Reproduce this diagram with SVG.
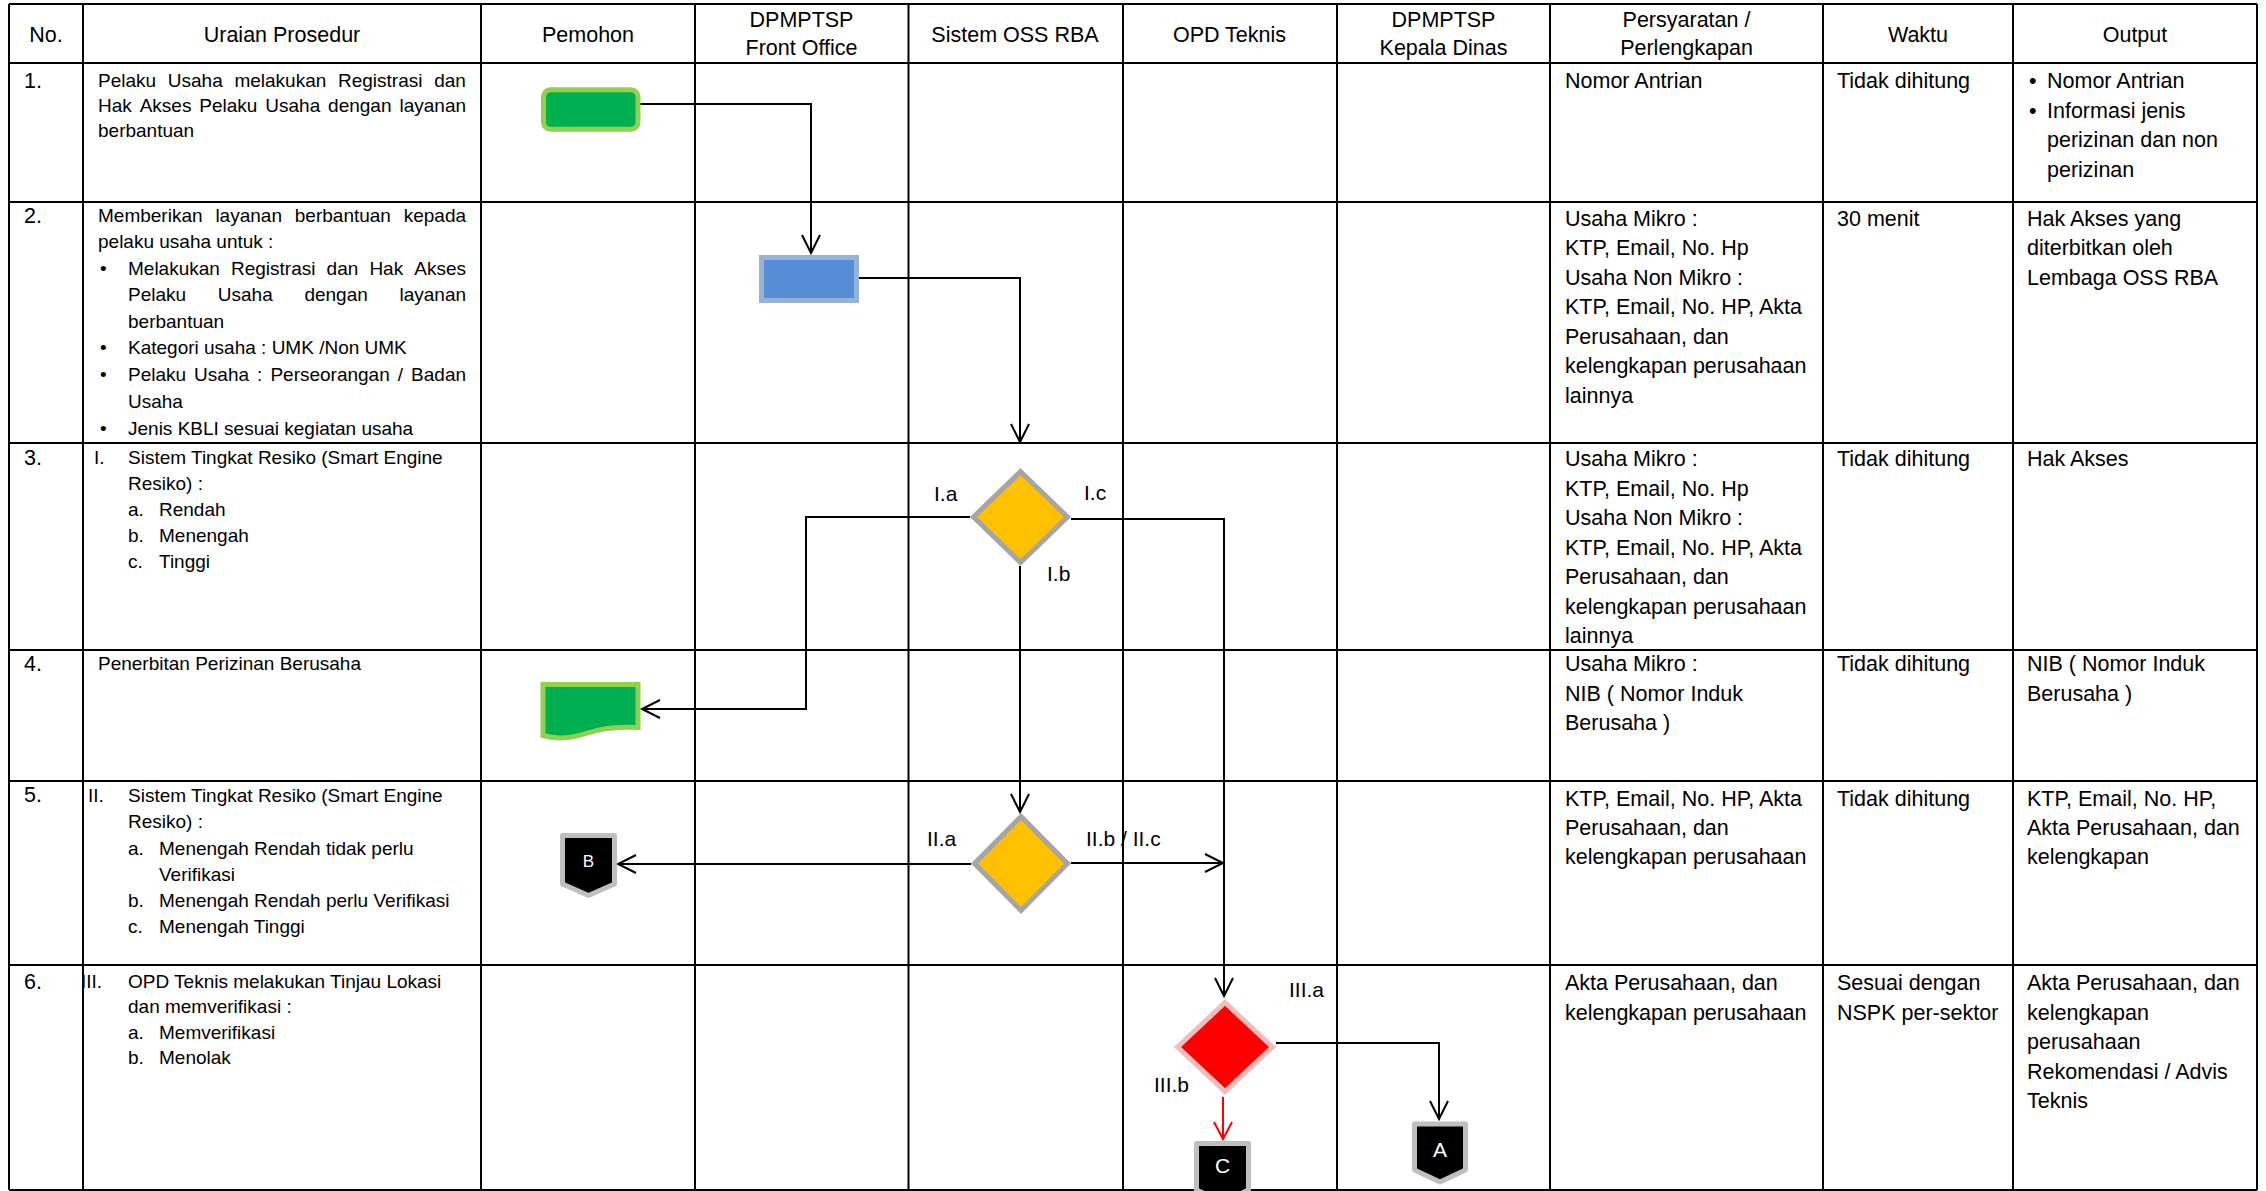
<svg xmlns="http://www.w3.org/2000/svg" width="2266" height="1191" viewBox="0 0 2266 1191">
<defs>
<style>
.t{font-family:"Liberation Sans",Arial,sans-serif;font-size:21.5px;fill:#000}
.h{font-family:"Liberation Sans",Arial,sans-serif;font-size:21.5px;fill:#000;text-anchor:middle}
.u{font-family:"Liberation Sans",Arial,sans-serif;font-size:19px;fill:#000}
.lbl{font-family:"Liberation Sans",Arial,sans-serif;font-size:21px;fill:#000}
.let{font-family:"Liberation Sans",Arial,sans-serif;fill:#fff;text-anchor:middle}
.grid line{stroke:#000;stroke-width:2}
.conn{fill:none;stroke:#000;stroke-width:2}
.red{stroke:#FF0000}
.green{fill:#00B050;stroke:#92D050;stroke-width:5}
.dia{fill:#FFC000;stroke:#A5A5A5;stroke-width:5;stroke-linejoin:miter}
.off{fill:#000;stroke:#BFBFBF;stroke-width:5;stroke-linejoin:round}
</style>
<marker id="arr" markerUnits="userSpaceOnUse" markerWidth="24" markerHeight="24" viewBox="-21 -12 24 24" refX="0" refY="0" orient="auto" overflow="visible">
<path d="M-18,-9 L0,0 L-18,9" fill="none" stroke="#000" stroke-width="2"/>
</marker>
<marker id="arrR" markerUnits="userSpaceOnUse" markerWidth="24" markerHeight="24" viewBox="-21 -12 24 24" refX="0" refY="0" orient="auto" overflow="visible">
<path d="M-17,-9 L0,0 L-17,9" fill="none" stroke="#FF0000" stroke-width="2"/>
</marker>
</defs>
<rect x="0" y="0" width="2266" height="1191" fill="#fff"/>

<g id="table">
<g class="grid">
<line x1="9" y1="4" x2="2257" y2="4"/>
<line x1="9" y1="63" x2="2257" y2="63"/>
<line x1="9" y1="202" x2="2257" y2="202"/>
<line x1="9" y1="443" x2="2257" y2="443"/>
<line x1="9" y1="650" x2="2257" y2="650"/>
<line x1="9" y1="781" x2="2257" y2="781"/>
<line x1="9" y1="965" x2="2257" y2="965"/>
<line x1="9" y1="1190" x2="2257" y2="1190"/>
<line x1="9" y1="4" x2="9" y2="1190"/>
<line x1="83" y1="4" x2="83" y2="1190"/>
<line x1="481" y1="4" x2="481" y2="1190"/>
<line x1="695" y1="4" x2="695" y2="1190"/>
<line x1="908.5" y1="4" x2="908.5" y2="1190"/>
<line x1="1123" y1="4" x2="1123" y2="1190"/>
<line x1="1337" y1="4" x2="1337" y2="1190"/>
<line x1="1550" y1="4" x2="1550" y2="1190"/>
<line x1="1823" y1="4" x2="1823" y2="1190"/>
<line x1="2013" y1="4" x2="2013" y2="1190"/>
<line x1="2257" y1="4" x2="2257" y2="1190"/>
</g>

<g id="header">
<text class="h" x="46" y="42">No.</text>
<text class="h" x="282" y="42">Uraian Prosedur</text>
<text class="h" x="588" y="42">Pemohon</text>
<text class="h" x="801.5" y="27">DPMPTSP</text>
<text class="h" x="801.5" y="55">Front Office</text>
<text class="h" x="1015" y="42">Sistem OSS RBA</text>
<text class="h" x="1229.5" y="42">OPD Teknis</text>
<text class="h" x="1443.5" y="27">DPMPTSP</text>
<text class="h" x="1443.5" y="55">Kepala Dinas</text>
<text class="h" x="1686.5" y="27">Persyaratan /</text>
<text class="h" x="1686.5" y="55">Perlengkapan</text>
<text class="h" x="1918" y="42">Waktu</text>
<text class="h" x="2135" y="42">Output</text>
</g>

<g id="row1">
<text class="t" x="24" y="88">1.</text>
<text class="u" y="87"><tspan x="98">Pelaku </tspan><tspan x="167.8">Usaha </tspan><tspan x="234.4">melakukan </tspan><tspan x="338">Registrasi </tspan><tspan x="434.2">dan</tspan></text>
<text class="u" y="112"><tspan x="98">Hak </tspan><tspan x="139.7">Akses </tspan><tspan x="199.3">Pelaku </tspan><tspan x="265.3">Usaha </tspan><tspan x="328.1">dengan </tspan><tspan x="399.5">layanan</tspan></text>
<text class="u" x="98" y="137">berbantuan</text>
<text class="t" x="1565" y="88">Nomor Antrian</text>
<text class="t" x="1837" y="88">Tidak dihitung</text>
<text class="t" x="2029" y="88">•</text>
<text class="t" x="2047" y="88">Nomor Antrian</text>
<text class="t" x="2029" y="117.5">•</text>
<text class="t" x="2047" y="117.5">Informasi jenis</text>
<text class="t" x="2047" y="147">perizinan dan non</text>
<text class="t" x="2047" y="176.5">perizinan</text>
</g>

<g id="row2">
<text class="t" x="24" y="223">2.</text>
<text class="u" y="222"><tspan x="98">Memberikan </tspan><tspan x="215.4">layanan </tspan><tspan x="294.8">berbantuan </tspan><tspan x="403.7">kepada</tspan></text>
<text class="u" x="98" y="248">pelaku usaha untuk :</text>
<text class="u" x="100" y="274.5">•</text>
<text class="u" y="274.5"><tspan x="128">Melakukan </tspan><tspan x="231">Registrasi </tspan><tspan x="326.6">dan </tspan><tspan x="369.4">Hak </tspan><tspan x="414.3">Akses</tspan></text>
<text class="u" y="301"><tspan x="128">Pelaku </tspan><tspan x="217.8">Usaha </tspan><tspan x="304.4">dengan </tspan><tspan x="399.5">layanan</tspan></text>
<text class="u" x="128" y="327.5">berbantuan</text>
<text class="u" x="100" y="354">•</text>
<text class="u" x="128" y="354">Kategori usaha : UMK /Non UMK</text>
<text class="u" x="100" y="381">•</text>
<text class="u" y="381"><tspan x="128">Pelaku </tspan><tspan x="194.1">Usaha </tspan><tspan x="257.1">: </tspan><tspan x="270.4">Perseorangan </tspan><tspan x="397.7">/ </tspan><tspan x="411.1">Badan</tspan></text>
<text class="u" x="128" y="408">Usaha</text>
<text class="u" x="100" y="435">•</text>
<text class="u" x="128" y="435">Jenis KBLI sesuai kegiatan usaha</text>
<text class="t" x="1565" y="225.5">Usaha Mikro :</text>
<text class="t" x="1565" y="255">KTP, Email, No. Hp</text>
<text class="t" x="1565" y="284.5">Usaha Non Mikro :</text>
<text class="t" x="1565" y="314">KTP, Email, No. HP, Akta</text>
<text class="t" x="1565" y="343.5">Perusahaan, dan</text>
<text class="t" x="1565" y="373">kelengkapan perusahaan</text>
<text class="t" x="1565" y="402.5">lainnya</text>
<text class="t" x="1837" y="225.5">30 menit</text>
<text class="t" x="2027" y="225.5">Hak Akses yang</text>
<text class="t" x="2027" y="255">diterbitkan oleh</text>
<text class="t" x="2027" y="284.5">Lembaga OSS RBA</text>
</g>

<g id="row3">
<text class="t" x="24" y="465">3.</text>
<text class="u" x="94" y="464">I.</text>
<text class="u" x="128" y="464">Sistem Tingkat Resiko (Smart Engine</text>
<text class="u" x="128" y="489.5">Resiko) :</text>
<text class="u" x="128" y="515.5">a.</text>
<text class="u" x="159" y="515.5">Rendah</text>
<text class="u" x="128" y="541.5">b.</text>
<text class="u" x="159" y="541.5">Menengah</text>
<text class="u" x="128" y="567.5">c.</text>
<text class="u" x="159" y="567.5">Tinggi</text>
<text class="t" x="1565" y="466">Usaha Mikro :</text>
<text class="t" x="1565" y="495.5">KTP, Email, No. Hp</text>
<text class="t" x="1565" y="525">Usaha Non Mikro :</text>
<text class="t" x="1565" y="554.5">KTP, Email, No. HP, Akta</text>
<text class="t" x="1565" y="584">Perusahaan, dan</text>
<text class="t" x="1565" y="613.5">kelengkapan perusahaan</text>
<text class="t" x="1565" y="643">lainnya</text>
<text class="t" x="1837" y="466">Tidak dihitung</text>
<text class="t" x="2027" y="466">Hak Akses</text>
</g>

<g id="row4">
<text class="t" x="24" y="671">4.</text>
<text class="u" x="98" y="670">Penerbitan Perizinan Berusaha</text>
<text class="t" x="1565" y="671">Usaha Mikro :</text>
<text class="t" x="1565" y="700.5">NIB ( Nomor Induk</text>
<text class="t" x="1565" y="730">Berusaha )</text>
<text class="t" x="1837" y="671">Tidak dihitung</text>
<text class="t" x="2027" y="671">NIB ( Nomor Induk</text>
<text class="t" x="2027" y="700.5">Berusaha )</text>
</g>

<g id="row5">
<text class="t" x="24" y="802">5.</text>
<text class="u" x="88" y="802">II.</text>
<text class="u" x="128" y="802">Sistem Tingkat Resiko (Smart Engine</text>
<text class="u" x="128" y="828">Resiko) :</text>
<text class="u" x="128" y="854.5">a.</text>
<text class="u" x="159" y="854.5">Menengah Rendah tidak perlu</text>
<text class="u" x="159" y="880.5">Verifikasi</text>
<text class="u" x="128" y="907">b.</text>
<text class="u" x="159" y="907">Menengah Rendah perlu Verifikasi</text>
<text class="u" x="128" y="933">c.</text>
<text class="u" x="159" y="933">Menengah Tinggi</text>
<text class="t" x="1565" y="806">KTP, Email, No. HP, Akta</text>
<text class="t" x="1565" y="835">Perusahaan, dan</text>
<text class="t" x="1565" y="864">kelengkapan perusahaan</text>
<text class="t" x="1837" y="806">Tidak dihitung</text>
<text class="t" x="2027" y="806">KTP, Email, No. HP,</text>
<text class="t" x="2027" y="835">Akta Perusahaan, dan</text>
<text class="t" x="2027" y="864">kelengkapan</text>
</g>

<g id="row6">
<text class="t" x="24" y="989">6.</text>
<text class="u" x="81" y="988">III.</text>
<text class="u" x="128" y="988">OPD Teknis melakukan Tinjau Lokasi</text>
<text class="u" x="128" y="1013">dan memverifikasi :</text>
<text class="u" x="128" y="1038.5">a.</text>
<text class="u" x="159" y="1038.5">Memverifikasi</text>
<text class="u" x="128" y="1064">b.</text>
<text class="u" x="159" y="1064">Menolak</text>
<text class="t" x="1565" y="990">Akta Perusahaan, dan</text>
<text class="t" x="1565" y="1019.5">kelengkapan perusahaan</text>
<text class="t" x="1837" y="990">Sesuai dengan</text>
<text class="t" x="1837" y="1019.5">NSPK per-sektor</text>
<text class="t" x="2027" y="990">Akta Perusahaan, dan</text>
<text class="t" x="2027" y="1019.5">kelengkapan</text>
<text class="t" x="2027" y="1049">perusahaan</text>
<text class="t" x="2027" y="1078.5">Rekomendasi / Advis</text>
<text class="t" x="2027" y="1108">Teknis</text>
</g>
</g>

<g id="connectors">
<path class="conn" d="M640,104 H811 V253" marker-end="url(#arr)"/>
<path class="conn" d="M859,278 H1020 V442" marker-end="url(#arr)"/>
<path class="conn" d="M970,517 H806 V709 H642" marker-end="url(#arr)"/>
<path class="conn" d="M1020,566 V812" marker-end="url(#arr)"/>
<path class="conn" d="M1071,519 H1224 V996" marker-end="url(#arr)"/>
<path class="conn" d="M971,864 H618" marker-end="url(#arr)"/>
<path class="conn" d="M1071,863 H1223" marker-end="url(#arr)"/>
<path class="conn" d="M1276,1043 H1439 V1119" marker-end="url(#arr)"/>
<path class="conn red" d="M1223,1097 V1139" marker-end="url(#arrR)"/>
<text class="lbl" x="934" y="501">I.a</text>
<text class="lbl" x="1084" y="500">I.c</text>
<text class="lbl" x="1047" y="581">I.b</text>
<text class="lbl" x="927" y="846">II.a</text>
<text class="lbl" x="1086" y="846">II.b / II.c</text>
<text class="lbl" x="1289" y="997">III.a</text>
<text class="lbl" x="1154" y="1092">III.b</text>
</g>

<g id="n-start">
<rect class="green" x="543.5" y="89.8" width="94.5" height="39.4" rx="7"/>
</g>
<g id="n-process">
<rect x="761.5" y="257.5" width="95" height="43" fill="#558ED5" stroke="#95B3D7" stroke-width="5"/>
</g>
<g id="n-decision1">
<path class="dia" d="M1020.5,471.5 L1067.5,517 L1020.5,562.5 L973.5,517 Z"/>
</g>
<g id="n-document">
<path class="green" d="M543,684.5 H638 V727.5 C614,726 599,729 586,733.5 C571,738.5 557,739.5 543,735.5 Z"/>
</g>
<g id="n-decision2">
<path class="dia" d="M1021,816.5 L1067.5,863.5 L1021,910.5 L974.5,863.5 Z"/>
</g>
<g id="n-offpage-B">
<path class="off" d="M562.5,835.5 H614.5 V884 L588.5,895.5 L562.5,884 Z"/>
<text class="let" x="588.5" y="867" font-size="17">B</text>
</g>
<g id="n-decision3">
<path d="M1225,1002.5 L1272.5,1047 L1225,1091.5 L1177.5,1047 Z" fill="#FF0000" stroke="#F2BDBD" stroke-width="5"/>
</g>
<g id="n-offpage-A">
<path class="off" d="M1414.5,1124 H1465.5 V1170 L1440,1182 L1414.5,1170 Z"/>
<text class="let" x="1440" y="1157" font-size="21">A</text>
</g>
<g id="n-offpage-C">
<path class="off" d="M1196.5,1143.5 H1248.5 V1190 L1222.5,1202 L1196.5,1190 Z"/>
<text class="let" x="1222.5" y="1173" font-size="21">C</text>
</g>
</svg>
